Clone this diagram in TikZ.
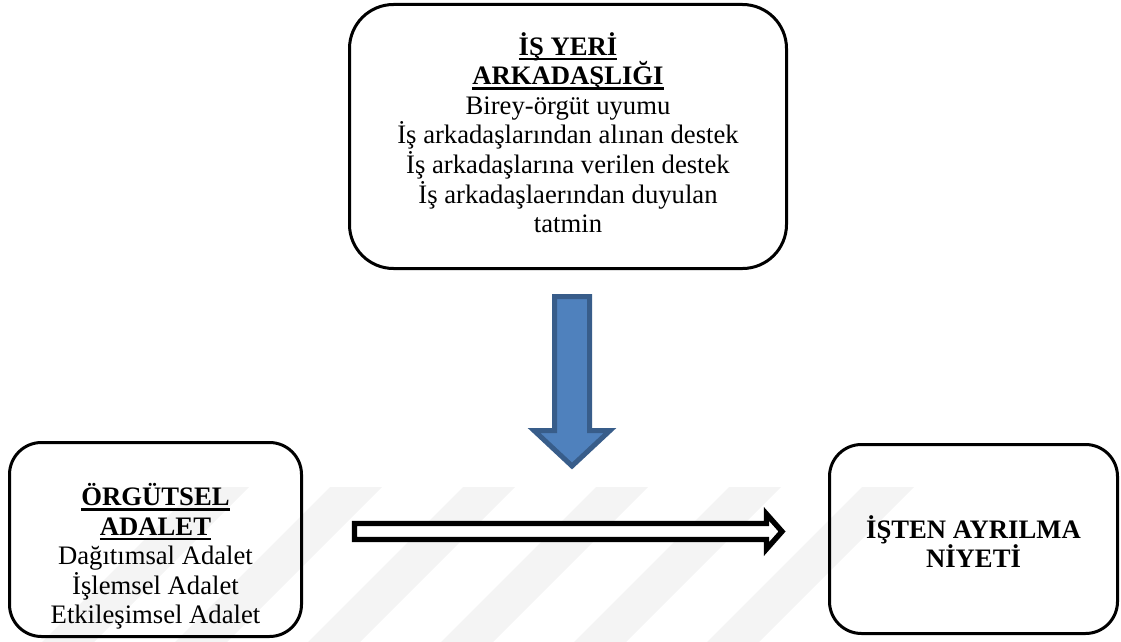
\documentclass[tikz,border=0pt]{standalone}
\usepackage{fontspec}
\setmainfont{Liberation Serif}
\usepackage{tikz}

\definecolor{okdolgu}{RGB}{79,129,189}
\definecolor{okcizgi}{RGB}{56,93,138}
\definecolor{filigrangri}{RGB}{244,244,244}

\newcommand{\baslik}[1]{\setbox0\hbox{\bfseries #1}\rlap{\rule[-4pt]{\wd0}{2pt}}\box0}

\tikzset{
  kutu/.style={draw, line width=2.25pt, rounded corners=#1, inner sep=0pt},
  yazi/.style={align=center, inner sep=0pt, font=\fontsize{20}{22.2}\selectfont},
  maviok/.style={draw=okcizgi, fill=okdolgu, line width=3.75pt, line join=miter},
  bosok/.style={draw=black, fill=white, line width=4pt, line join=miter}
}

\begin{document}
\begin{tikzpicture}[x=0.75pt,y=0.75pt,yscale=-1,xscale=1]
\useasboundingbox (0,0) rectangle (1121,642);

%Watermark stripes
\begin{scope}
\clip (0,487) rectangle (1121,642);
\foreach \a in {197,330,...,862}
  \fill [filigrangri] (\a,487) -- ++(52,0) -- ++(-155,155) -- ++(-52,0) -- cycle;
\end{scope}

%Shape: Rounded Rect [isyeri]
\node [kutu=33pt, minimum width=327.75pt, minimum height=198pt] (isyeri) at (568,136.5) {};
%Shape: Rounded Rect [adalet]
\node [kutu=24pt, minimum width=219pt, minimum height=145.5pt] (adalet) at (155.5,539.5) {};
%Shape: Rounded Rect [niyet]
\node [kutu=24pt, minimum width=216pt, minimum height=141.75pt] (niyet) at (973.5,539) {};

%Down Arrow [maviok]
\coordinate (okbas) at (572,296.5);
\coordinate (okuc) at (572,466);
\draw [maviok] (okbas) ++(-17.5,0) -- ++(35,0) -- ++(0,134) -- ++(20.5,0) -- (okuc) -- ++(-38,-35.5) -- ++(20.5,0) -- cycle ;

%Right Arrow [bosok]
\coordinate (yatbas) at (354.5,531.5);
\coordinate (yatuc) at (782,531.5);
\draw [bosok] (yatbas) ++(0,-8) -- ++(412,0) -- ++(0,-9.5) -- (yatuc) -- ++(-15.5,17.5) -- ++(0,-9.5) -- ++(-412,0) -- cycle ;

% Text Node
\node [yazi, anchor=north] (isyerimetin) at (568,32) {\baslik{İŞ YERİ}\\\baslik{ARKADAŞLIĞI}\\Birey-örgüt uyumu\\İş arkadaşlarından alınan destek\\İş arkadaşlarına verilen destek\\İş arkadaşlaerından duyulan\\tatmin};
% Text Node
\node [yazi, anchor=north] (adaletmetin) at (155.5,483) {\baslik{ÖRGÜTSEL}\\\baslik{ADALET}\\Dağıtımsal Adalet\\İşlemsel Adalet\\Etkileşimsel Adalet};
% Text Node
\node [yazi, anchor=north] (niyetmetin) at (973.5,515) {\textbf{İŞTEN AYRILMA}\\\textbf{NİYETİ}};

\end{tikzpicture}
\end{document}
